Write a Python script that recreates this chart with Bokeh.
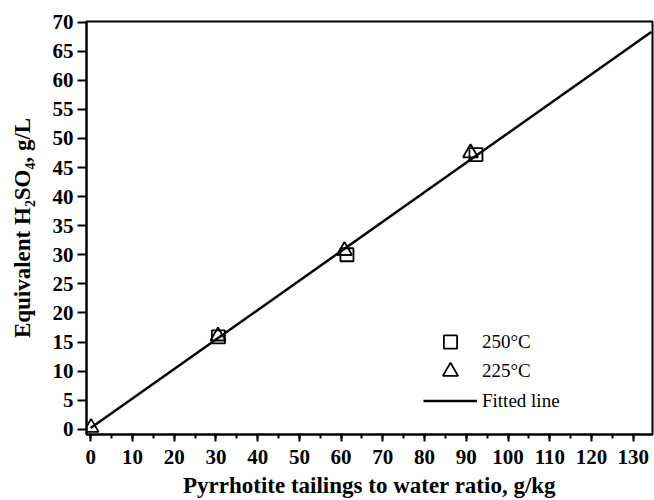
from bokeh.plotting import figure
from bokeh.models import Range1d, SingleIntervalTicker, Legend, LegendItem
from bokeh.embed import file_html
from bokeh.resources import INLINE

# Data
x_250 = [30.6, 61.4, 92.3]
y_250 = [15.9, 30.0, 47.2]
x_225 = [0.1, 30.5, 60.8, 91.0]
y_225 = [0.3, 16.0, 30.7, 47.5]
fit_x = [0.0, 134.3]
fit_y = [0.2, 68.3]

x_label = "Pyrrhotite tailings to water ratio, g/kg"
y_label = "Equivalent H\u2082SO\u2084, g/L"
legend_labels = ["250\u00b0C", "225\u00b0C", "Fitted line"]

FONT = "Liberation Serif"

p = figure(width=654, height=500, output_backend="svg", toolbar_location=None,
           x_range=Range1d(-1, 134.6), y_range=Range1d(-0.9, 70.1),
           min_border_left=86, min_border_right=2, min_border_top=21,
           min_border_bottom=65)
p.xgrid.visible = False
p.ygrid.visible = False
p.outline_line_color = "black"
p.outline_line_width = 2
p.background_fill_color = "white"
p.border_fill_color = "white"

fit = p.line(fit_x, fit_y, line_color="black", line_width=2.5)
sq = p.scatter(x_250, y_250, marker="square", size=13, line_color="black",
               line_width=1.8, fill_alpha=0)
tri = p.scatter(x_225, y_225, marker="triangle", size=15, line_color="black",
                line_width=1.8, fill_alpha=0)

xa = p.xaxis[0]
xa.ticker = SingleIntervalTicker(interval=10, num_minor_ticks=2)
ya = p.yaxis[0]
ya.ticker = SingleIntervalTicker(interval=5, num_minor_ticks=0)

for ax in (xa, ya):
    ax.axis_line_width = 2
    ax.axis_line_color = "black"
    ax.major_tick_line_width = 2
    ax.minor_tick_line_width = 2
    ax.major_tick_line_color = "black"
    ax.minor_tick_line_color = "black"
    ax.major_tick_in = 0
    ax.minor_tick_in = 0
    ax.minor_tick_out = 4
    ax.major_label_text_font = FONT
    ax.major_label_text_font_style = "bold"
    ax.major_label_text_font_size = "21px"
    ax.major_label_text_color = "black"
    ax.axis_label_text_font = FONT
    ax.axis_label_text_font_style = "bold"
    ax.axis_label_text_font_size = "23px"
    ax.axis_label_text_color = "black"

xa.axis_label = x_label
ya.axis_label = y_label
xa.major_tick_out = 7
ya.major_tick_out = 9
xa.major_label_standoff = 8
xa.axis_label_standoff = 6
ya.major_label_standoff = 4
ya.axis_label_standoff = 15

common = dict(glyph_width=54, spacing=0, padding=0, margin=0,
              label_standoff=5, border_line_alpha=0, background_fill_alpha=0,
              label_text_font=FONT, label_text_font_size="19px",
              label_text_color="black")
leg1 = Legend(items=[LegendItem(label=legend_labels[0], renderers=[sq])],
              location=(337, 76), glyph_height=33, label_height=33, **common)
leg2 = Legend(items=[LegendItem(label=legend_labels[1], renderers=[tri])],
              location=(337, 44), glyph_height=38, label_height=38, **common)
leg3 = Legend(items=[LegendItem(label=legend_labels[2], renderers=[fit])],
              location=(337, 20), glyph_height=27, label_height=27, **common)
for lg in (leg1, leg2, leg3):
    p.add_layout(lg, "center")

open("out.html", "w").write(file_html(p, INLINE))
